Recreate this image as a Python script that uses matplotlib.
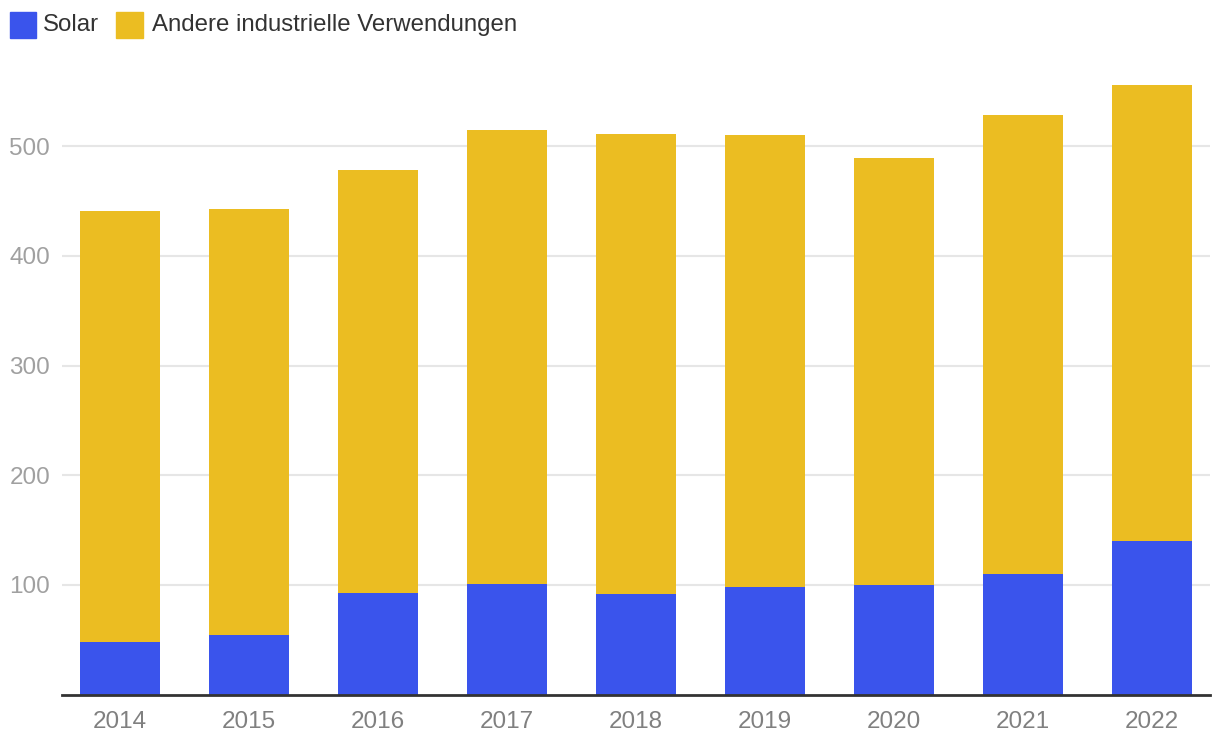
import matplotlib
matplotlib.use("Agg")
import matplotlib.pyplot as plt
from matplotlib.patches import Rectangle

years = ["2014", "2015", "2016", "2017", "2018", "2019", "2020", "2021", "2022"]
solar = [48, 54, 93, 101, 92, 98, 100, 110, 140]
total = [441, 443, 478, 515, 511, 510, 489, 528, 556]
other = [t - s for t, s in zip(total, solar)]
yticks = [100, 200, 300, 400, 500]

blue = "#3A54EC"
yellow = "#EBBD22"

plt.rcParams['font.family'] = ['Liberation Sans', 'DejaVu Sans']

W, H = 1220, 748
fig = plt.figure(figsize=(W / 100, H / 100), dpi=100)
ax = fig.add_axes([62 / W, (H - 694.5) / H, (1210 - 62) / W, 658 / H])

x = list(range(len(years)))
ax.bar(x, solar, width=0.62, color=blue, zorder=3)
ax.bar(x, other, bottom=solar, width=0.62, color=yellow, zorder=3)

ax.set_xlim(-0.45, len(years) - 1 + 0.45)
ax.set_ylim(0, 600)
ax.set_yticks(yticks)
ax.set_xticks(x)
ax.set_xticklabels(years)
ax.grid(axis='y', color='#e6e6e6', linewidth=1.5, zorder=0)
for s in ['top', 'right', 'left']:
    ax.spines[s].set_visible(False)
ax.spines['bottom'].set_color('#333333')
ax.spines['bottom'].set_linewidth(2)
ax.spines['bottom'].set_zorder(4)
ax.tick_params(axis='y', length=0, pad=8.5, labelsize=17.5, labelcolor='#a0a0a0')
ax.tick_params(axis='x', length=0, pad=12, labelsize=17.5, labelcolor='#808080')

# legend
fig.patches.append(Rectangle((10 / W, (H - 38) / H), 26 / W, 26 / H,
                             transform=fig.transFigure, color=blue, figure=fig))
fig.text(43 / W, (H - 25) / H, "Solar", fontsize=17.3, color='#333333', va='center', ha='left')
fig.patches.append(Rectangle((116 / W, (H - 38) / H), 27 / W, 26 / H,
                             transform=fig.transFigure, color=yellow, figure=fig))
fig.text(152 / W, (H - 25) / H, "Andere industrielle Verwendungen", fontsize=17.3,
         color='#333333', va='center', ha='left')

fig.savefig("out.png", dpi=100, facecolor='white')
